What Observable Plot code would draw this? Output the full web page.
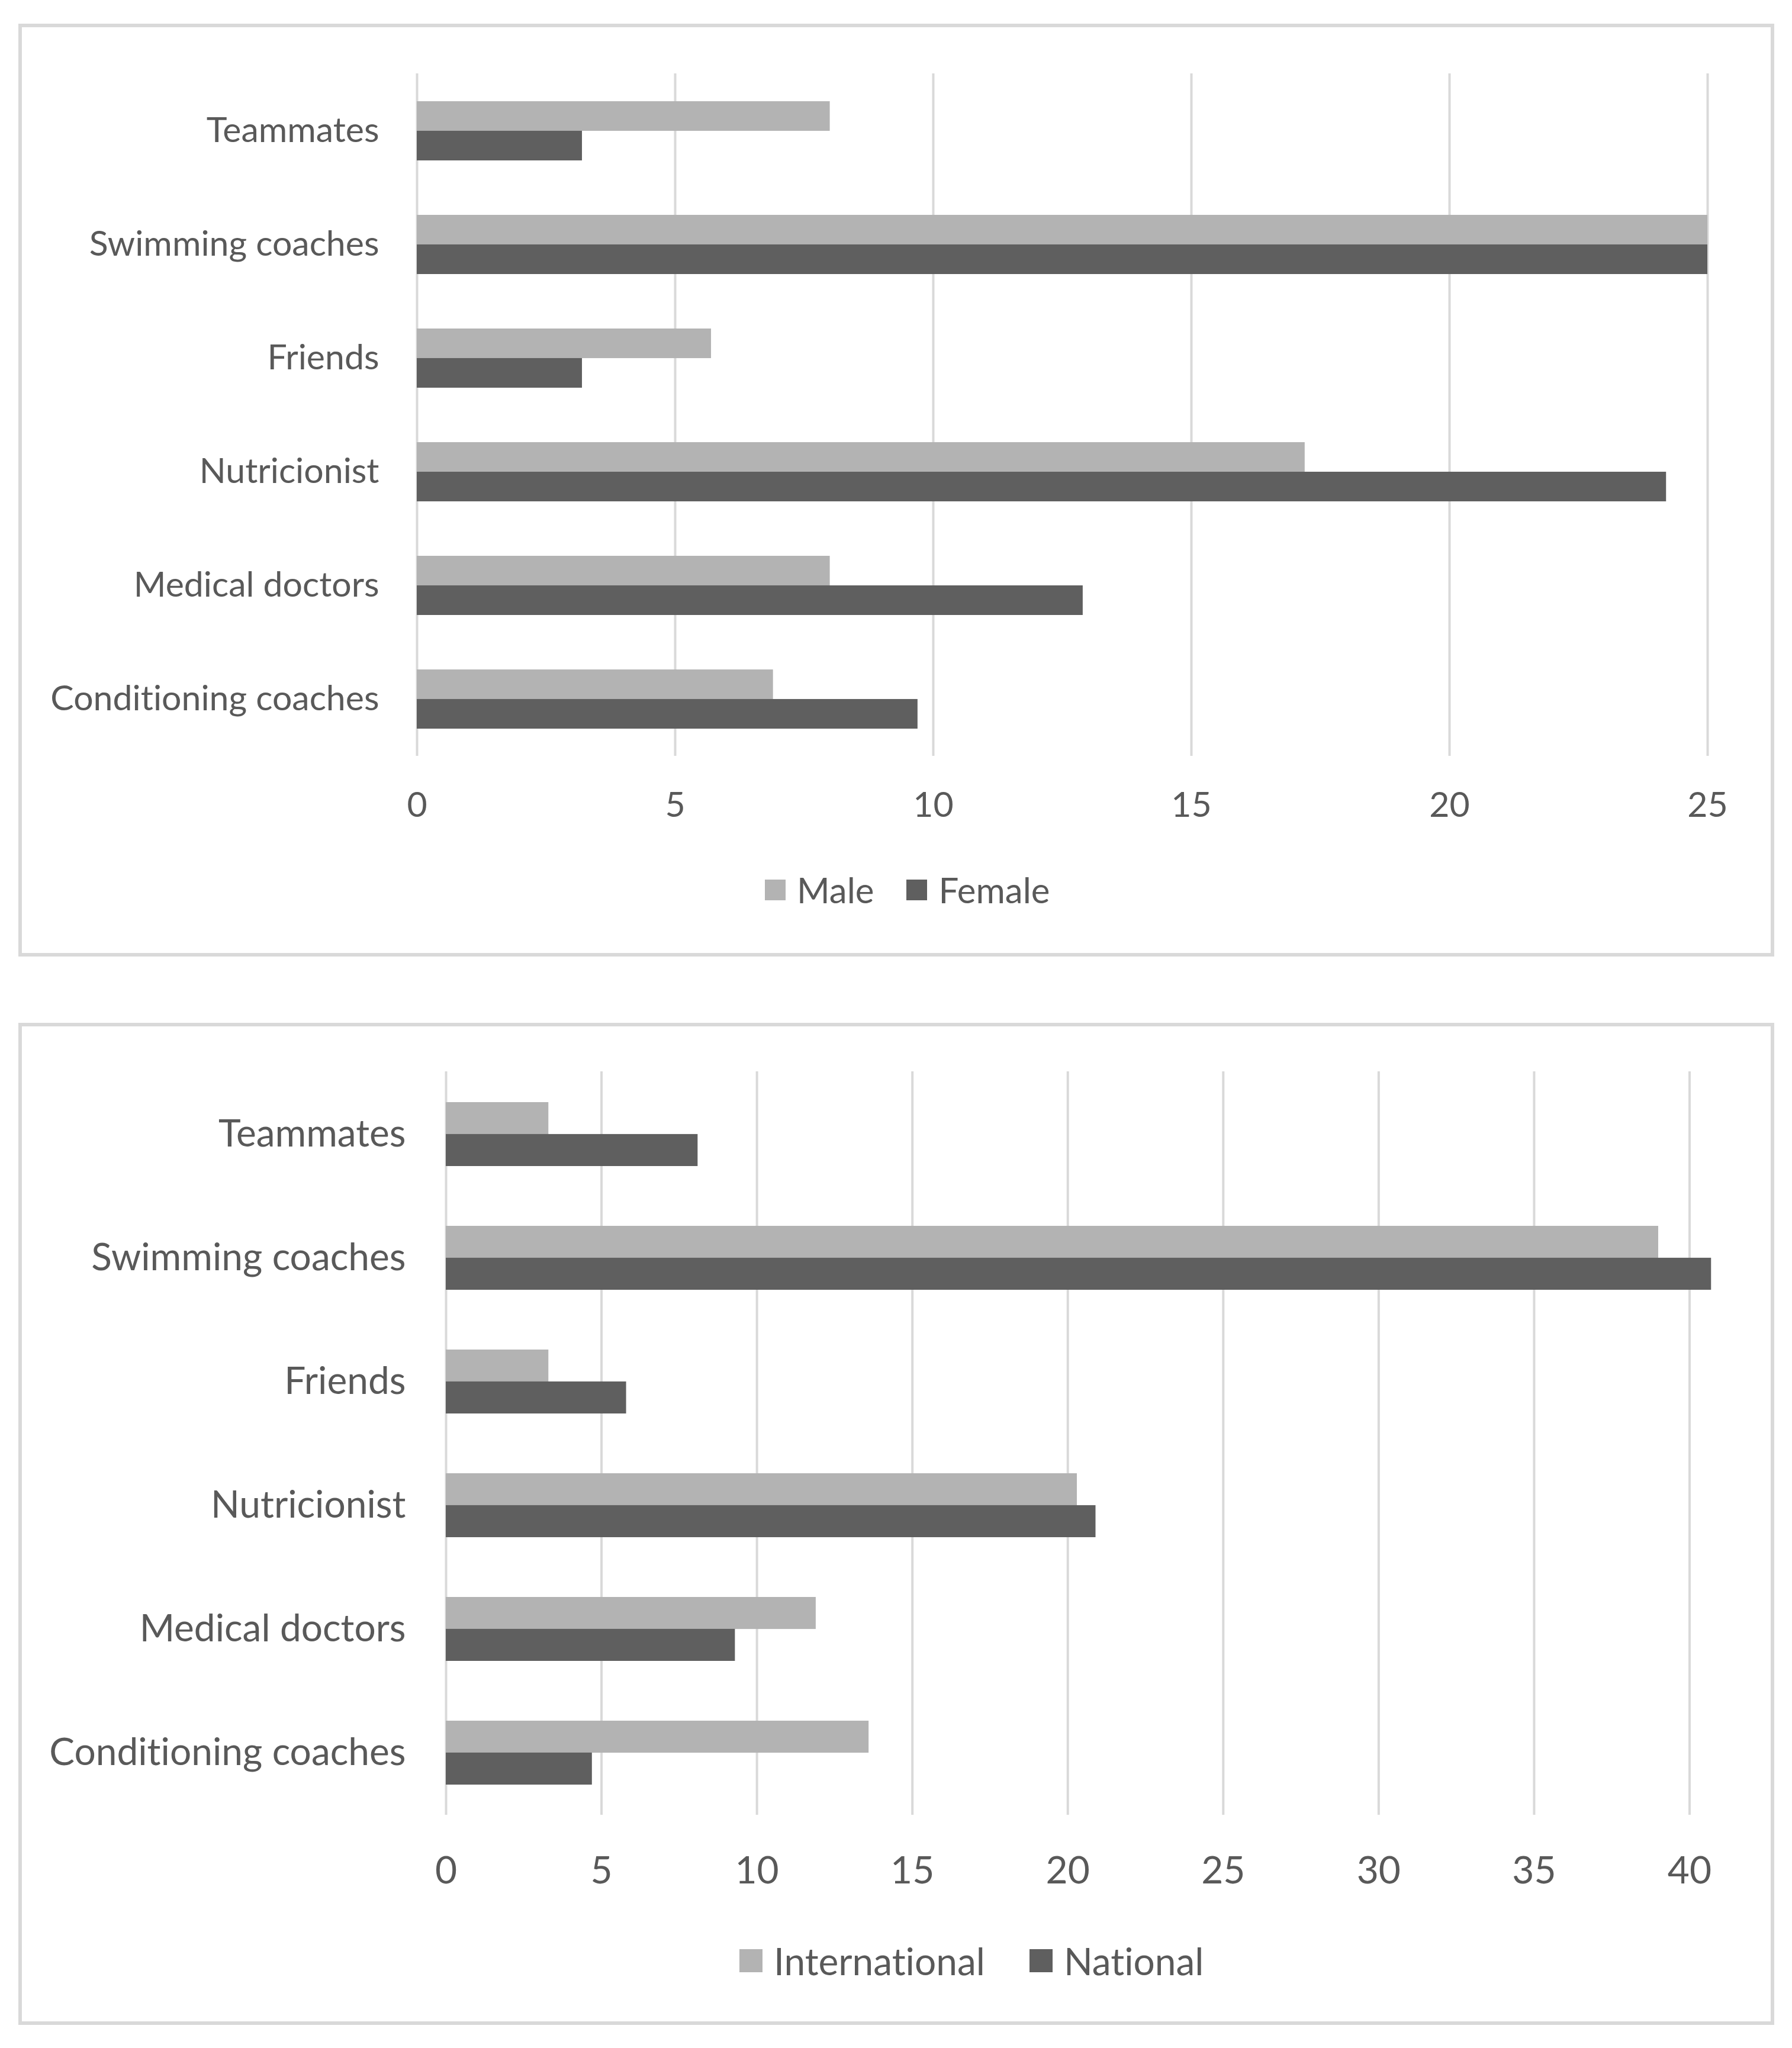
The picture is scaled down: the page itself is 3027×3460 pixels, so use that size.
<!DOCTYPE html>
<html>
<head>
<meta charset="utf-8">
<script src="https://cdn.jsdelivr.net/npm/d3@7"></script>
<script src="https://cdn.jsdelivr.net/npm/@observablehq/plot@0.6"></script>
<style>
  html, body { margin: 0; padding: 0; background: #ffffff; }
  #page { position: relative; width: 3027px; height: 3460px; background: #ffffff; overflow: hidden; font-family: Lato, "Open Sans", sans-serif; color: #595959; font-variant-ligatures: none; }
  #page svg text { font-variant-ligatures: none; }
  .box { position: absolute; box-sizing: border-box; border: 6px solid #d9d9d9; z-index: 2; pointer-events: none; }
  .chart { position: absolute; left: 0; z-index: 1; }
  .legend { position: absolute; display: flex; align-items: center; white-space: nowrap; z-index: 3; }
  .legend .item { display: flex; align-items: center; }
  .legend .sw { display: inline-block; }
</style>
</head>
<body>
<div id="page">
  <div class="box" style="left:31px; top:40px; width:2966px; height:1576px;"></div>
  <div class="box" style="left:31px; top:1728px; width:2966px; height:1693px;"></div>
  <div class="chart" id="chart1" style="top:0px;"></div>
  <div class="chart" id="chart2" style="top:1700px;"></div>
  <div class="legend" id="legend1" style="left:1292px; top:1468px; height:70px; font-size:60px;"></div>
  <div class="legend" id="legend2" style="left:1249px; top:3274px; height:76px; font-size:64px;"></div>
</div>
<script>
// ---- data (categories listed top to bottom) ----
const categories = ["Teammates", "Swimming coaches", "Friends", "Nutricionist", "Medical doctors", "Conditioning coaches"];
const male = [8.0, 25.0, 5.7, 17.2, 8.0, 6.9];
const female = [3.2, 25.0, 3.2, 24.2, 12.9, 9.7];
const international = [3.3, 39.0, 3.3, 20.3, 11.9, 13.6];
const national = [8.1, 40.7, 5.8, 20.9, 9.3, 4.7];
const ticksGender = [0, 5, 10, 15, 20, 25];
const ticksLevel = [0, 5, 10, 15, 20, 25, 30, 35, 40];
const seriesGender = ["Male", "Female"];
const seriesLevel = ["International", "National"];

const lightGray = "#b3b3b3";
const darkGray = "#5f5f5f";
const textColor = "#595959";
const gridColor = "#d9d9d9";

function makeChart(opts) {
  const {a, b, ticks, domain, width, height, marginTop, marginBottom, marginLeft, marginRight, fontSize, tickPadX, tickPadY, padInner, padOuter} = opts;
  const rows = categories.map((c, i) => ({cat: c, a: a[i], b: b[i]}));
  const innerH = height - marginTop - marginBottom;
  const n = categories.length;
  const step = innerH / (n - padInner + 2 * padOuter);
  const bw = step * (1 - padInner);
  return Plot.plot({
    width, height, marginTop, marginBottom, marginLeft, marginRight,
    style: {background: "transparent", color: textColor, fontFamily: "Lato, 'Open Sans', sans-serif", fontSize: fontSize + "px", overflow: "visible"},
    x: {domain, ticks},
    y: {domain: categories, paddingInner: padInner, paddingOuter: padOuter},
    marks: [
      Plot.gridX(ticks, {stroke: gridColor, strokeOpacity: 1, strokeWidth: 4}),
      Plot.barX(rows, {x: "a", y: "cat", fill: lightGray, insetBottom: bw / 2}),
      Plot.barX(rows, {x: "b", y: "cat", fill: darkGray, insetTop: bw / 2}),
      Plot.axisX(ticks, {anchor: "bottom", tickSize: 0, tickPadding: tickPadX, fontSize, fill: textColor, label: null}),
      Plot.axisY({anchor: "left", tickSize: 0, tickPadding: tickPadY, fontSize, fill: textColor, label: null})
    ]
  });
}

document.getElementById("chart1").appendChild(makeChart({
  a: male, b: female, ticks: ticksGender, domain: [0, 25],
  width: 3027, height: 1420, marginTop: 124, marginBottom: 1420 - 1277, marginLeft: 704, marginRight: 3027 - 2884,
  fontSize: 59, tickPadX: 61, tickPadY: 64, padInner: 0.48, padOuter: 0.24
}));

document.getElementById("chart2").appendChild(makeChart({
  a: international, b: national, ticks: ticksLevel, domain: [0, 41],
  width: 3027, height: 1550, marginTop: 1810 - 1700, marginBottom: 1550 - (3066 - 1700), marginLeft: 753, marginRight: 3027 - 2906,
  fontSize: 64, tickPadX: 70, tickPadY: 68, padInner: 0.485, padOuter: 0.2425
}));

function makeLegend(id, names, sw, gapSw, gapItem) {
  const el = document.getElementById(id);
  const colors = [lightGray, darkGray];
  names.forEach((name, i) => {
    const item = document.createElement("div");
    item.className = "item";
    if (i > 0) item.style.marginLeft = gapItem + "px";
    const s = document.createElement("span");
    s.className = "sw";
    s.style.width = sw + "px";
    s.style.height = sw + "px";
    s.style.background = colors[i];
    s.style.marginRight = gapSw + "px";
    const t = document.createElement("span");
    t.textContent = name;
    item.appendChild(s);
    item.appendChild(t);
    el.appendChild(item);
  });
}
makeLegend("legend1", seriesGender, 35, 19, 55);
makeLegend("legend2", seriesLevel, 39, 19, 75);
</script>
</body>
</html>
